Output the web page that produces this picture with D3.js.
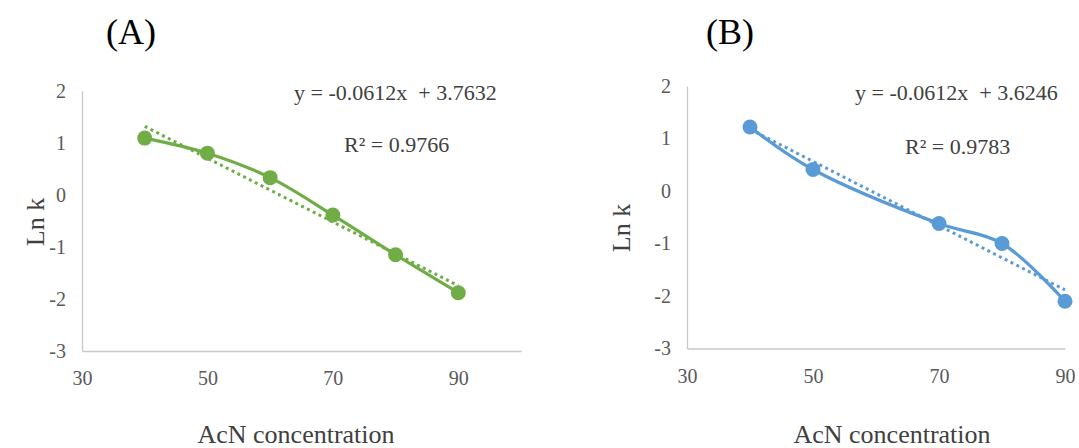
<!DOCTYPE html>
<html>
<head>
<meta charset="utf-8">
<script src="https://cdn.jsdelivr.net/npm/d3@7"></script>
<style>
  body { margin: 0; background: #fff; }
  svg text { font-family: "Liberation Serif", "Times New Roman", serif; }
</style>
</head>
<body>
<svg id="chart" width="1079" height="448"></svg>
<script>
// AcN concentration (%) vs Ln k
var xA = [40, 50, 60, 70, 80, 90];
var lnkA = [1.09, 0.80, 0.33, -0.39, -1.15, -1.88];
var xB = [40, 50, 70, 80, 90];
var lnkB = [1.22, 0.41, -0.62, -1.00, -2.10];

var trendSlope = [-0.0612, -0.0612];
var trendIntercept = [3.7632, 3.6246];
var eqLabels = ['y = -0.0612x  + 3.7632', 'y = -0.0612x  + 3.6246'];
var r2Labels = ['R\u00B2 = 0.9766', 'R\u00B2 = 0.9783'];
var panelLabels = ['(A)', '(B)'];
var xTicks = [30, 50, 70, 90];
var yTicks = [2, 1, 0, -1, -2, -3];

var svg = d3.select('#chart');

function drawPanel(opt) {
    var x = d3.scaleLinear().domain(opt.xDomain).range([opt.left, opt.right]),
        y = d3.scaleLinear().domain([-3, 2]).range([opt.bottom, opt.top]),
        g = svg.append('g');

    // axis lines only, no ticks
    var yAxis = g.append('g')
        .attr('transform', 'translate(' + opt.left + ',0)')
        .call(d3.axisLeft(y).tickValues(yTicks).tickSize(0).tickPadding(16).tickFormat(String));
    var xAxis = g.append('g')
        .attr('transform', 'translate(0,' + opt.bottom + ')')
        .call(d3.axisBottom(x).tickValues(xTicks).tickSize(0).tickPadding(20).tickFormat(String));
    [xAxis, yAxis].forEach(function(a) {
        a.select('.domain').attr('stroke', '#c8c8c8').attr('stroke-width', 1.3);
        a.selectAll('text').attr('fill', '#595959').style('font-size', '20px')
            .style('font-family', '"Liberation Serif", serif');
    });

    // trendline (dotted)
    var tx = [d3.min(opt.xs), d3.max(opt.xs)];
    g.append('line')
        .attr('x1', x(tx[0])).attr('y1', y(opt.slope * tx[0] + opt.intercept))
        .attr('x2', x(tx[1])).attr('y2', y(opt.slope * tx[1] + opt.intercept))
        .attr('stroke', opt.color).attr('stroke-width', 3)
        .attr('stroke-dasharray', '3,3.5');

    // smoothed series line
    var line = d3.line()
        .x(function(d) { return x(d[0]); })
        .y(function(d) { return y(d[1]); })
        .curve(d3.curveCatmullRom.alpha(0.5));
    var pts = d3.zip(opt.xs, opt.ys);
    g.append('path').datum(pts)
        .attr('d', line)
        .attr('fill', 'none')
        .attr('stroke', opt.color)
        .attr('stroke-width', 3.2);
    g.selectAll('circle').data(pts).enter().append('circle')
        .attr('cx', function(d) { return x(d[0]); })
        .attr('cy', function(d) { return y(d[1]); })
        .attr('r', 7.5)
        .attr('fill', opt.color);

    // text
    g.append('text').attr('x', opt.eqX).attr('y', opt.eqY)
        .attr('fill', '#404040').style('font-size', '22px').style('white-space', 'pre')
        .text(opt.eq);
    g.append('text').attr('x', opt.r2X).attr('y', opt.r2Y)
        .attr('fill', '#404040').style('font-size', '22px')
        .text(opt.r2);
    g.append('text').attr('x', opt.titleX).attr('y', 443)
        .attr('text-anchor', 'middle').attr('fill', '#404040').style('font-size', '26px')
        .text('AcN concentration');
    g.append('text')
        .attr('transform', 'translate(' + opt.ylabX + ',' + opt.ylabY + ') rotate(-90)')
        .attr('text-anchor', 'middle').attr('fill', '#404040').style('font-size', '26px')
        .text('Ln k');
    g.append('text').attr('x', opt.panelX).attr('y', 44)
        .attr('text-anchor', 'middle').attr('fill', '#000').style('font-size', '36px')
        .text(opt.panel);
}

drawPanel({
    xs: xA, ys: lnkA, color: '#70ad47',
    xDomain: [30, 100], left: 82, right: 521, top: 90.7, bottom: 351,
    slope: trendSlope[0], intercept: trendIntercept[0],
    eq: eqLabels[0], eqX: 294, eqY: 100,
    r2: r2Labels[0], r2X: 344, r2Y: 152,
    titleX: 296, ylabX: 44, ylabY: 222,
    panel: panelLabels[0], panelX: 131
});
drawPanel({
    xs: xB, ys: lnkB, color: '#5b9bd5',
    xDomain: [30, 90], left: 687, right: 1065, top: 86, bottom: 348.5,
    slope: trendSlope[1], intercept: trendIntercept[1],
    eq: eqLabels[1], eqX: 855, eqY: 100,
    r2: r2Labels[1], r2X: 905, r2Y: 154,
    titleX: 892, ylabX: 630, ylabY: 228,
    panel: panelLabels[1], panelX: 730
});
</script>
</body>
</html>
